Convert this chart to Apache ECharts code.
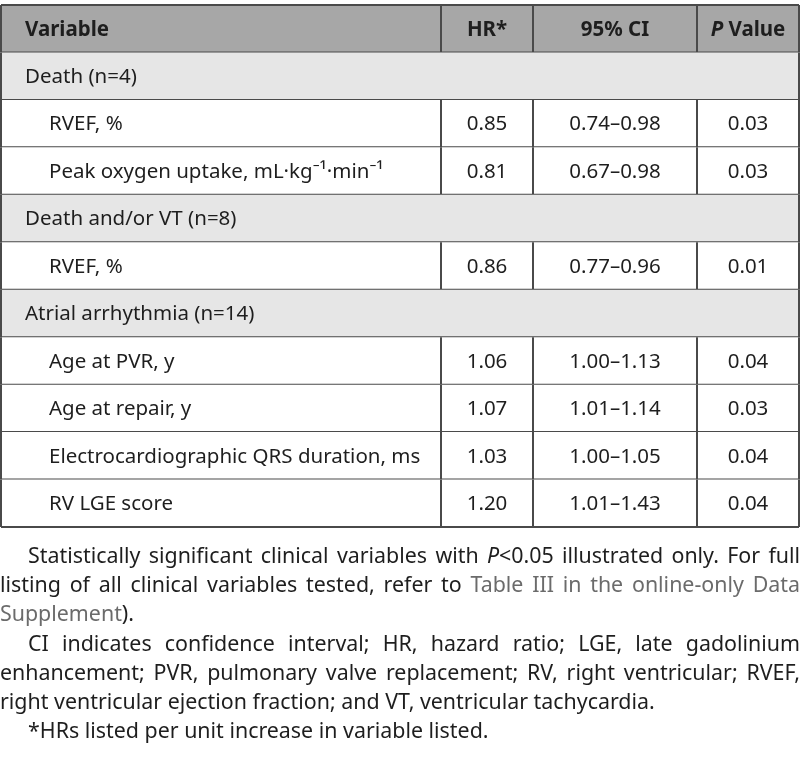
<!DOCTYPE html>
<html><head><meta charset="utf-8">
<script src="https://cdn.jsdelivr.net/npm/echarts@6/dist/echarts.min.js"></script>
<style>html,body{margin:0;padding:0;background:#fff}#c{width:800px;height:758px}</style>
</head><body><div id="c"></div>
<script>
// ---- data ----
const headers = ['Variable', 'HR*', '95% CI', 'P Value'];
const rowLabels = ['Death (n=4)', 'RVEF, %', 'Peak oxygen uptake, mL·kg⁻¹·min⁻¹', 'Death and/or VT (n=8)', 'RVEF, %',
  'Atrial arrhythmia (n=14)', 'Age at PVR, y', 'Age at repair, y', 'Electrocardiographic QRS duration, ms', 'RV LGE score'];
const rowIsGroup = [true, false, false, true, false, true, false, false, false, false];
const hrValues = [null, 0.85, 0.81, null, 0.86, null, 1.06, 1.07, 1.03, 1.20];
const ciLow = [null, 0.74, 0.67, null, 0.77, null, 1.00, 1.01, 1.00, 1.01];
const ciHigh = [null, 0.98, 0.98, null, 0.96, null, 1.13, 1.14, 1.05, 1.43];
const pValues = [null, 0.03, 0.03, null, 0.01, null, 0.04, 0.03, 0.04, 0.04];
const footLines = [
  {indent: true, justify: true, segs: [['Statistically significant clinical variables with ', 'n'], ['P', 'i'], ['<0.05 illustrated only. For full', 'n']]},
  {indent: false, justify: true, segs: [['listing of all clinical variables tested, refer to ', 'n'], ['Table III in the online-only Data', 'l']]},
  {indent: false, justify: false, segs: [['Supplement', 'l'], [').', 'n']]},
  {indent: true, justify: true, segs: [['CI indicates confidence interval; HR, hazard ratio; LGE, late gadolinium', 'n']]},
  {indent: false, justify: true, segs: [['enhancement; PVR, pulmonary valve replacement; RV, right ventricular; RVEF,', 'n']]},
  {indent: false, justify: false, segs: [['right ventricular ejection fraction; and VT, ventricular tachycardia.', 'n']]},
  {indent: true, justify: false, segs: [['*HRs listed per unit increase in variable listed.', 'n']]}
];

// ---- layout ----
const FONT = "'Noto Sans', 'Open Sans', sans-serif";
const FS = 20.5;
const FFS = 21.4;
const colEdges = [1, 441, 533, 697, 799];
const LINE = '#4a4a4a';
const TXT = '#1e1e1e';

const rowCats = ['header'].concat(rowLabels.map((_, i) => 'r' + i));
const cellData = rowCats.map((_, i) => [0, i]);

function fmt(v) { return v.toFixed(2); }

function renderItem(params, api) {
  const r = api.value(1);
  const h = api.size([0, 1])[1];
  const yc = api.coord([0, r])[1];
  const top = yc - h / 2, bot = yc + h / 2;
  const xs = colEdges.map(e => api.coord([e, r])[0]);
  const ch = [];
  const isHeader = r === 0;
  const isGroup = !isHeader && rowIsGroup[r - 1];
  const fill = isHeader ? '#a7a7a7' : (isGroup ? '#e6e6e6' : '#ffffff');
  ch.push({type: 'rect', shape: {x: xs[0], y: top, width: xs[4] - xs[0], height: h}, style: {fill: fill}});
  const ln = (x1, y1, x2, y2) => ch.push({type: 'line', shape: {x1, y1, x2, y2}, style: {stroke: LINE, lineWidth: 2}});
  if (isHeader) ln(xs[0], top, xs[4], top);
  ln(xs[0], bot, xs[4], bot);
  ln(xs[0], top, xs[0], bot);
  ln(xs[4], top, xs[4], bot);
  if (!isGroup) { ln(xs[1], top, xs[1], bot); ln(xs[2], top, xs[2], bot); ln(xs[3], top, xs[3], bot); }
  const mid = (a, b) => (xs[a] + xs[b]) / 2;
  const t = (text, x, align, extra) => ch.push({type: 'text', style: Object.assign({text, x, y: yc + 1, textAlign: align, textVerticalAlign: 'middle', fontFamily: FONT, fontSize: FS, fill: TXT}, extra || {})});
  if (isHeader) {
    t(headers[0], xs[0] + 24, 'left', {fontWeight: 'bold'});
    t(headers[1], mid(1, 2), 'center', {fontWeight: 'bold'});
    t(headers[2], mid(2, 3), 'center', {fontWeight: 'bold'});
    t('{pi|P} {b|Value}', mid(3, 4), 'center', {rich: {pi: {fontStyle: 'italic', fontWeight: 'bold', fontFamily: FONT, fontSize: FS, fill: TXT}, b: {fontWeight: 'bold', fontFamily: FONT, fontSize: FS, fill: TXT}}});
  } else {
    const i = r - 1;
    t(rowLabels[i], xs[0] + (isGroup ? 24 : 48), 'left');
    if (!isGroup) {
      t(fmt(hrValues[i]), mid(1, 2), 'center');
      t(fmt(ciLow[i]) + '–' + fmt(ciHigh[i]), mid(2, 3), 'center');
      t(fmt(pValues[i]), mid(3, 4), 'center');
    }
  }
  return {type: 'group', children: ch};
}

// ---- footnotes (justified) ----
const cv = document.createElement('canvas').getContext('2d');
function fontStr(st) { return (st === 'i' ? 'italic ' : '') + FFS + 'px ' + FONT; }
function measure(txt, st) { cv.font = fontStr(st); return cv.measureText(txt).width; }
const footY = [557, 586, 615, 645, 674, 703, 732];
const footLeft = 0, footRight = 800, indentW = 28;
const graphics = [];
footLines.forEach((line, li) => {
  const words = []; let cur = [];
  line.segs.forEach(([txt, st]) => {
    const parts = txt.split(' ');
    parts.forEach((p, k) => {
      if (k > 0) { if (cur.length) words.push(cur); cur = []; }
      if (p.length) cur.push([p, st]);
    });
  });
  if (cur.length) words.push(cur);
  const widths = words.map(w => w.reduce((s, [p, st]) => s + measure(p, st), 0));
  const x0 = footLeft + (line.indent ? indentW : 0);
  const total = widths.reduce((a, b) => a + b, 0);
  const gap = line.justify ? (footRight - x0 - total) / (words.length - 1) : measure(' ', 'n');
  let x = x0;
  words.forEach((w, wi) => {
    let px = x;
    w.forEach(([p, st]) => {
      graphics.push({type: 'text', x: px, y: footY[li], style: {text: p, fontFamily: FONT, fontSize: FFS, fontStyle: st === 'i' ? 'italic' : 'normal', fill: st === 'l' ? '#6b6b6b' : TXT, textAlign: 'left', textVerticalAlign: 'middle'}});
      px += measure(p, st);
    });
    x += widths[wi] + gap;
  });
});

const chart = echarts.init(document.getElementById('c'), null, {renderer: 'canvas'});
chart.setOption({
  animation: false,
  backgroundColor: '#ffffff',
  grid: {left: 0, right: 0, top: 5, height: 522},
  xAxis: {type: 'value', min: 0, max: 800, show: false},
  yAxis: {type: 'category', data: rowCats, inverse: true, show: false},
  series: [{type: 'custom', renderItem: renderItem, data: cellData, encode: {x: 0, y: 1}, clip: false}],
  graphic: graphics
});
</script></body></html>
